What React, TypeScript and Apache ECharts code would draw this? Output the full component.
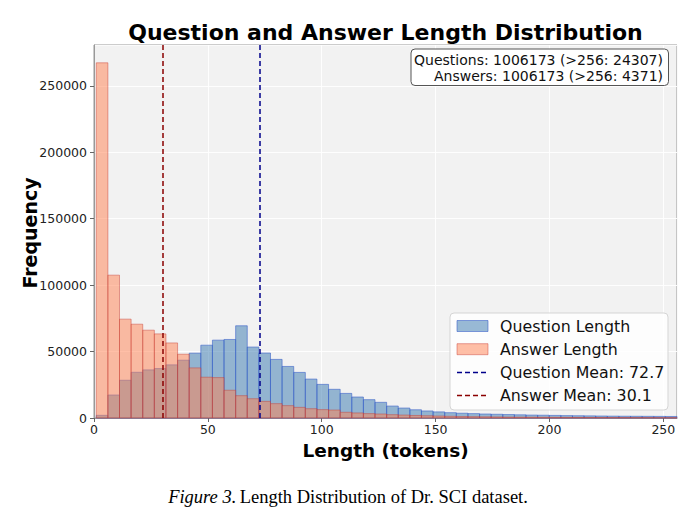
import React, { useEffect, useRef } from "react";
import * as echarts from "echarts";

// Histogram: 50 bins from 1 to 256 tokens
const BIN_START = 1;
const BIN_WIDTH = 5.1;

const questionCounts = [
  2000, 17300, 28400, 34400, 36200, 37200, 40000, 43500, 48800, 54800,
  58600, 59100, 69400, 53400, 48900, 44100, 38800, 34300, 29300, 25300,
  21600, 18500, 15800, 13800, 11800, 9000, 7500, 6200, 5300, 4600,
  4000, 3600, 3300, 3000, 2800, 2600, 2400, 2200, 2100, 1950,
  1800, 1700, 1600, 1500, 1400, 1350, 1300, 1250, 1200, 1150,
];

const answerCounts = [
  267300, 107500, 74400, 70600, 66100, 63300, 56500, 48000, 37700, 30700,
  30400, 20900, 16800, 14500, 12500, 10800, 9300, 8000, 7000, 6300,
  6000, 4300, 3800, 3300, 3000, 2500, 2200, 1900, 1700, 1500,
  1300, 1100, 1000, 900, 800, 700, 650, 600, 550, 500,
  450, 400, 380, 350, 320, 300, 280, 260, 240, 220,
];

const questionMean = 72.7;
const answerMean = 30.1;

const xTicks = [0, 50, 100, 150, 200, 250];
const yTicks = [0, 50000, 100000, 150000, 200000, 250000];
const X_MAX = 256;
const Y_MAX = 280700;

const TITLE = "Question and Answer Length Distribution";
const X_NAME = "Length (tokens)";
const Y_NAME = "Frequency";
const INFO_LINES = [
  "Questions: 1006173 (>256: 24307)",
  "Answers: 1006173 (>256: 4371)",
];
const LEGEND_ITEMS = [
  "Question Length",
  "Answer Length",
  "Question Mean: 72.7",
  "Answer Mean: 30.1",
];

const Q_FILL = "rgba(70,130,180,0.55)";
const Q_EDGE = "rgba(50,90,200,0.55)";
const A_FILL = "rgba(255,127,80,0.5)";
const A_EDGE = "rgba(200,60,50,0.45)";
const Q_MEAN_COLOR = "#00008B";
const A_MEAN_COLOR = "#8B0000";

const SANS = "DejaVu Sans";

function binData(counts: number[]) {
  return counts.map((c, i) => [
    BIN_START + i * BIN_WIDTH,
    BIN_START + (i + 1) * BIN_WIDTH,
    c,
  ]);
}

function makeRender(fill: string, stroke: string) {
  return (_params: any, api: any) => {
    const p0 = api.coord([api.value(0), api.value(2)]);
    const p1 = api.coord([api.value(1), 0]);
    return {
      type: "rect",
      shape: { x: p0[0], y: p0[1], width: p1[0] - p0[0], height: p1[1] - p0[1] },
      style: { fill, stroke, lineWidth: 1 },
    };
  };
}

export default function App() {
  const ref = useRef<HTMLDivElement>(null);

  useEffect(() => {
    if (!ref.current) return;
    const chart = echarts.init(ref.current, null, { renderer: "svg" });

    const gridLeft = 94;
    const gridRight = 19;
    const gridTop = 45;
    const gridBottom = 109;
    const plotCenterX = gridLeft + (696 - gridLeft - gridRight) / 2;

    const lx = 450;
    const ly = 313;
    const rowH = 23.2;
    const legendGraphic: any[] = [
      {
        type: "rect",
        shape: { x: lx, y: ly, width: 218, height: 97, r: 4 },
        style: { fill: "rgba(255,255,255,0.8)", stroke: "#d5d5d5", lineWidth: 1 },
        z: 100,
      },
    ];
    LEGEND_ITEMS.forEach((t, i) => {
      const cy = ly + 13 + i * rowH;
      if (i < 2) {
        legendGraphic.push({
          type: "rect",
          shape: { x: lx + 7, y: cy - 5.5, width: 31, height: 11 },
          style: { fill: i === 0 ? Q_FILL : A_FILL, stroke: i === 0 ? Q_EDGE : A_EDGE, lineWidth: 1 },
          z: 101,
        });
      } else {
        legendGraphic.push({
          type: "line",
          shape: { x1: lx + 7, y1: cy, x2: lx + 38, y2: cy },
          style: {
            stroke: i === 2 ? Q_MEAN_COLOR : A_MEAN_COLOR,
            lineWidth: 1.5,
            lineDash: [5, 3],
          },
          z: 101,
        });
      }
      legendGraphic.push({
        type: "text",
        x: lx + 50,
        y: cy,
        style: {
          text: t,
          font: `15.8px ${SANS}`,
          fill: "#111",
          textVerticalAlign: "middle",
        },
        z: 101,
      });
    });

    const infoGraphic: any[] = [
      {
        type: "rect",
        shape: { x: 411, y: 49, width: 257.5, height: 36.5, r: 4 },
        style: { fill: "#ffffff", stroke: "#555", lineWidth: 1 },
        z: 100,
      },
      ...INFO_LINES.map((t, i) => ({
        type: "text",
        x: 663,
        y: 59.5 + i * 16.5,
        style: {
          text: t,
          font: `14px ${SANS}`,
          fill: "#111",
          textAlign: "right",
          textVerticalAlign: "middle",
        },
        z: 101,
      })),
    ];

    const option: any = {
      animation: false,
      backgroundColor: "#ffffff",
      grid: {
        left: gridLeft,
        right: gridRight,
        top: gridTop,
        bottom: gridBottom,
        show: true,
        backgroundColor: "#f2f2f2",
        borderColor: "#999",
        borderWidth: 1,
      },
      xAxis: {
        type: "value",
        min: 0,
        max: X_MAX,
        interval: 50,
        name: X_NAME,
        nameLocation: "middle",
        nameGap: 19,
        nameTextStyle: { fontFamily: SANS, fontWeight: "bold", fontSize: 18.5, color: "#000" },
        axisLine: { show: true, lineStyle: { color: "#999" } },
        axisTick: { show: true, length: 4, lineStyle: { color: "#666" } },
        axisLabel: {
          fontFamily: SANS,
          fontSize: 12.5,
          color: "#222",
          margin: 5,
          showMaxLabel: false,
          formatter: (v: number) => (xTicks.includes(v) ? String(v) : ""),
        },
        splitLine: { show: true, lineStyle: { color: "rgba(255,255,255,0.9)", width: 1 } },
      },
      yAxis: {
        type: "value",
        min: 0,
        max: Y_MAX,
        interval: 50000,
        axisLine: { show: true, lineStyle: { color: "#999" } },
        axisTick: { show: true, length: 4, lineStyle: { color: "#666" } },
        axisLabel: {
          fontFamily: SANS,
          fontSize: 12.5,
          color: "#222",
          margin: 7,
          showMaxLabel: false,
          formatter: (v: number) => (yTicks.includes(v) ? String(v) : ""),
        },
        splitLine: { show: true, lineStyle: { color: "rgba(255,255,255,0.9)", width: 1 } },
      },
      series: [
        {
          name: "Question Length",
          type: "custom",
          renderItem: makeRender(Q_FILL, Q_EDGE),
          encode: { x: [0, 1], y: 2 },
          data: binData(questionCounts),
          z: 2,
        },
        {
          name: "Answer Length",
          type: "custom",
          renderItem: makeRender(A_FILL, A_EDGE),
          encode: { x: [0, 1], y: 2 },
          data: binData(answerCounts),
          z: 3,
          markLine: {
            silent: true,
            symbol: "none",
            label: { show: false },
            z: 10,
            data: [
              { xAxis: questionMean, lineStyle: { color: Q_MEAN_COLOR, type: [5, 3], width: 1.5 } },
              { xAxis: answerMean, lineStyle: { color: A_MEAN_COLOR, type: [5, 3], width: 1.5 } },
            ],
          },
        },
      ],
      graphic: [
        {
          type: "text",
          x: plotCenterX,
          y: 32,
          style: {
            text: TITLE,
            font: `bold 22px ${SANS}`,
            fill: "#000",
            textAlign: "center",
            textVerticalAlign: "middle",
          },
        },
        {
          type: "text",
          x: 30,
          y: 233,
          rotation: Math.PI / 2,
          style: {
            text: Y_NAME,
            font: `bold 19px ${SANS}`,
            fill: "#000",
            textAlign: "center",
            textVerticalAlign: "middle",
          },
        },
        ...infoGraphic,
        ...legendGraphic,
        {
          type: "text",
          x: 348,
          y: 497,
          style: {
            rich: {
              it: { fontFamily: "Liberation Serif", fontStyle: "italic", fontSize: 18.5, fill: "#000" },
              rg: { fontFamily: "Liberation Serif", fontSize: 18.5, fill: "#000" },
            },
            text: "{it|Figure 3.} {rg|Length Distribution of Dr. SCI dataset.}",
            textAlign: "center",
            textVerticalAlign: "middle",
          },
        },
      ],
    };

    chart.setOption(option);
    return () => chart.dispose();
  }, []);

  return (
    <div
      ref={ref}
      style={{ position: "fixed", left: 0, top: 0, width: 696, height: 527 }}
    />
  );
}
